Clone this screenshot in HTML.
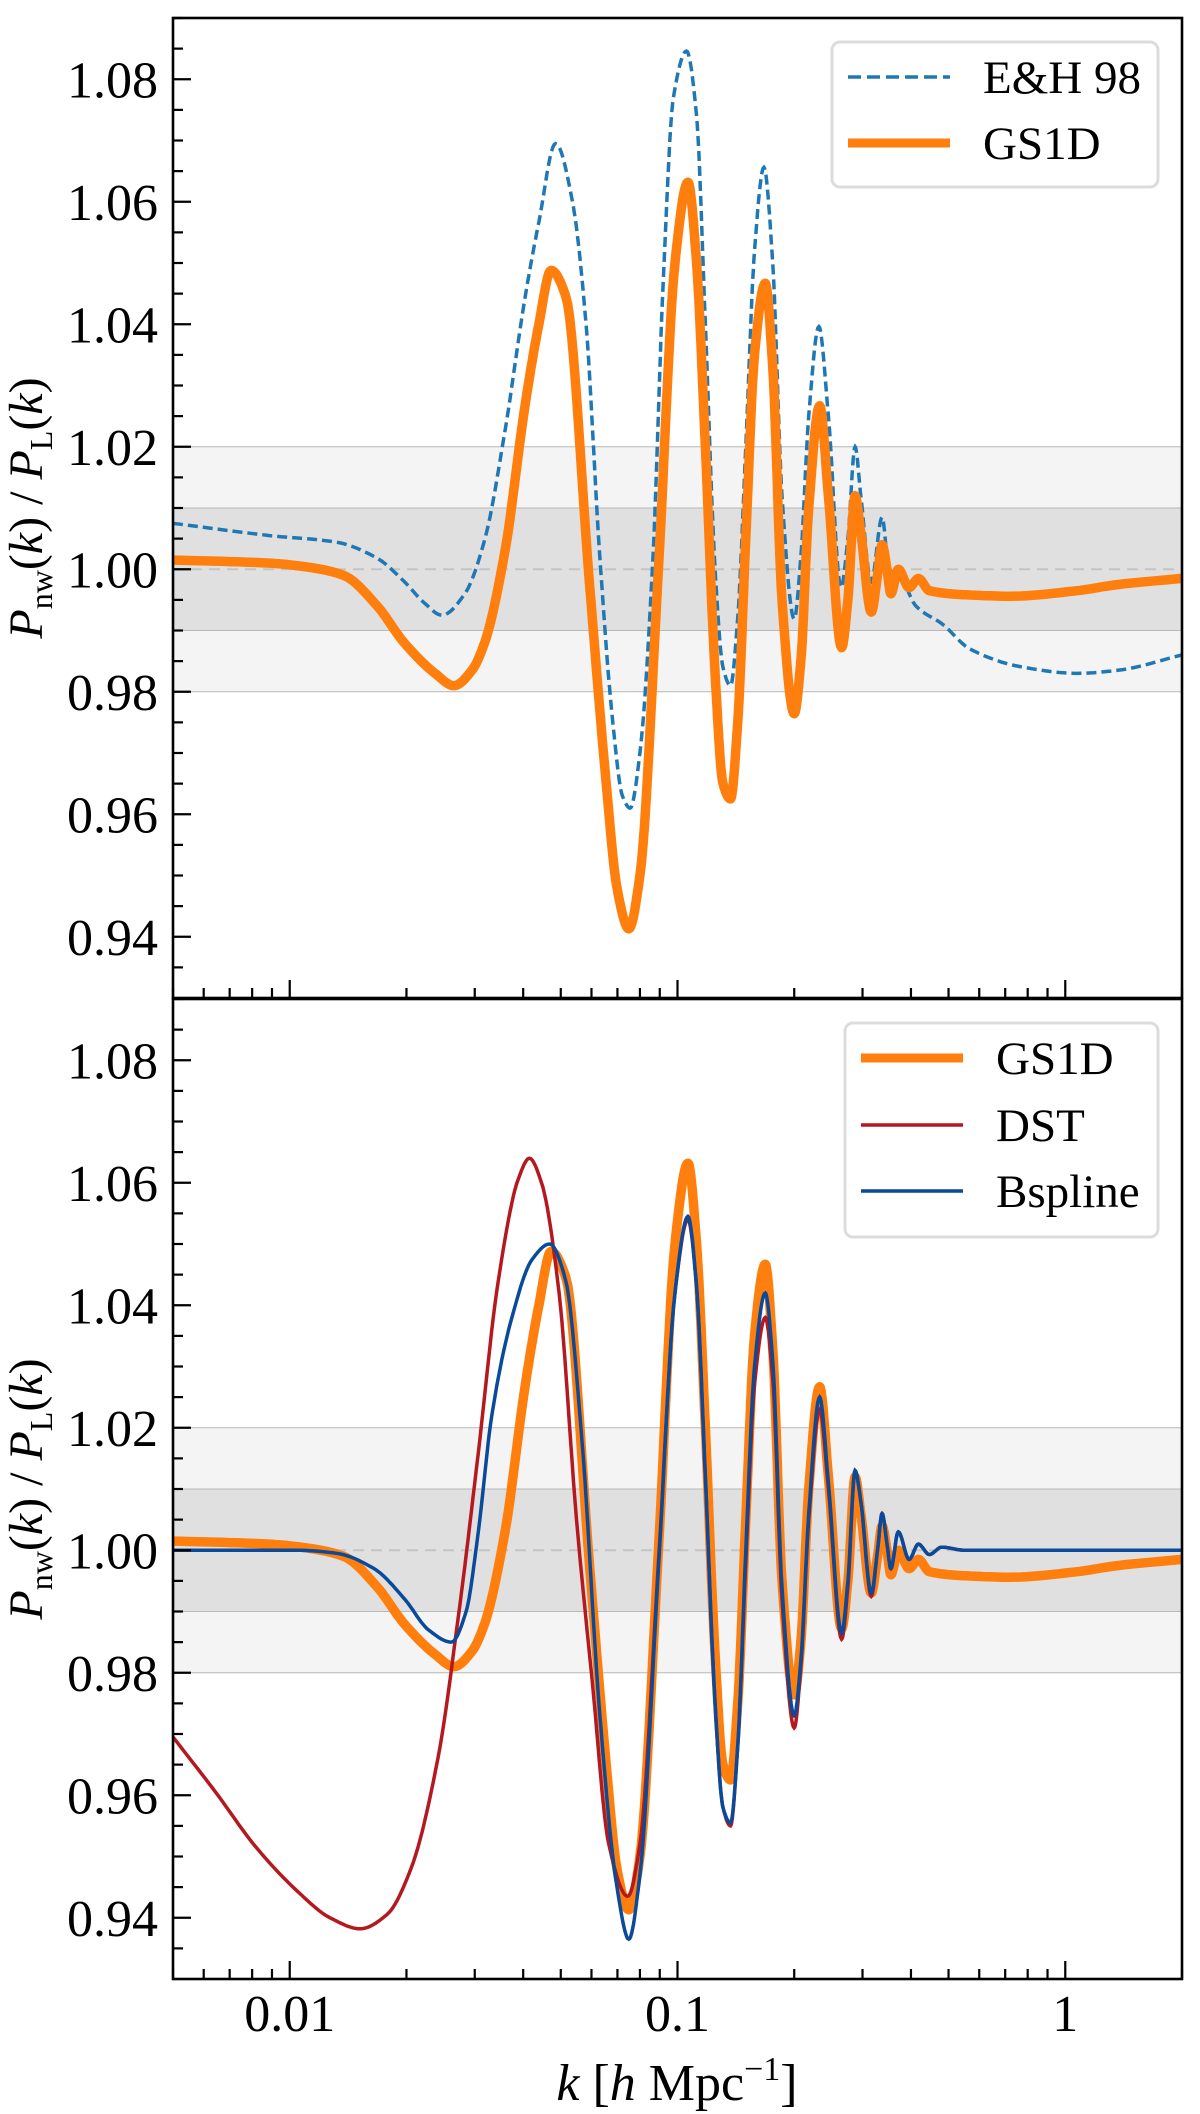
<!DOCTYPE html>
<html><head><meta charset="utf-8"><style>
html,body{margin:0;padding:0;background:#fff;}
svg{display:block;}
text{font-family:"Liberation Serif","DejaVu Serif",serif;fill:#000;}
</style></head><body>
<svg id="chart" width="1200" height="2114" viewBox="0 0 1200 2114" xmlns="http://www.w3.org/2000/svg"></svg>
<script>
// ---- data ----
const kGS1D = [0.005,0.00887,0.01127,0.01377,0.01681,0.01973,0.0237,0.0265,0.0295,0.0318,0.0359,0.0405,0.0439,0.0472,0.0515,0.0594,0.0655,0.0698,0.0749,0.080,0.0893,0.0985,0.1064,0.112,0.118,0.125,0.131,0.137,0.143,0.150,0.158,0.1684,0.176,0.186,0.200,0.208,0.218,0.2326,0.245,0.265,0.275,0.287,0.297,0.316,0.328,0.337,0.347,0.355,0.371,0.3956,0.418,0.446,0.567,0.72,1.074,1.365,2.0];
const vGS1D = [1.0015,1.001,1.0003,0.999,0.994,0.988,0.983,0.981,0.9835,0.988,1.003,1.027,1.040,1.0488,1.0446,0.997,0.965,0.948,0.9413,0.950,1.000,1.050,1.0632,1.050,1.020,0.983,0.965,0.9625,0.975,1.005,1.035,1.0467,1.033,0.995,0.9764,0.985,1.010,1.0267,1.012,0.9872,0.995,1.012,1.006,0.993,0.999,1.004,1.0,0.996,1.000,0.997,0.9985,0.9965,0.9958,0.9956,0.9965,0.9975,0.9985];
const kEH = [0.005,0.00887,0.01323,0.01681,0.01973,0.02224,0.0247,0.02828,0.03188,0.0359,0.0405,0.0439,0.0485,0.0536,0.0581,0.0629,0.0681,0.0721,0.0755,0.080,0.0866,0.0916,0.0976,0.1055,0.112,0.118,0.125,0.131,0.137,0.143,0.150,0.158,0.167,0.176,0.186,0.200,0.208,0.218,0.2315,0.245,0.264,0.275,0.287,0.297,0.316,0.337,0.351,0.374,0.412,0.483,0.567,0.78,1.074,1.365,2.0];
const vEH = [1.0075,1.0055,1.0044,1.0018,0.998,0.9945,0.9925,0.996,1.005,1.0226,1.0446,1.0567,1.0695,1.060,1.040,1.003,0.975,0.963,0.961,0.970,1.003,1.045,1.077,1.0846,1.074,1.040,1.000,0.984,0.981,0.992,1.020,1.052,1.0656,1.050,1.012,0.9919,1.002,1.025,1.0396,1.025,0.997,1.005,1.020,1.012,0.998,1.0085,1.0,0.999,0.994,0.991,0.987,0.984,0.983,0.9835,0.986];
const kDST = [0.005,0.00644,0.00819,0.0104,0.0127,0.0152,0.0178,0.02054,0.0241,0.0272,0.0306,0.0345,0.0389,0.0415,0.0446,0.0495,0.0549,0.0604,0.0665,0.0744,0.080,0.0893,0.0985,0.1064,0.112,0.118,0.125,0.131,0.137,0.143,0.150,0.158,0.1684,0.176,0.186,0.200,0.208,0.218,0.2326,0.245,0.265,0.275,0.287,0.297,0.316,0.328,0.337,0.347,0.355,0.371,0.3956,0.418,0.446,0.48,0.55,2.0];
const vDST = [0.9695,0.9605,0.9515,0.9445,0.9400,0.9382,0.9405,0.948,0.966,0.989,1.0156,1.044,1.0607,1.064,1.060,1.042,1.005,0.978,0.952,0.9435,0.952,0.998,1.042,1.054,1.043,1.012,0.975,0.958,0.955,0.968,0.998,1.027,1.038,1.028,0.992,0.971,0.981,1.005,1.023,1.010,0.9855,0.994,1.013,1.008,0.9925,1.0,1.006,1.001,0.997,1.003,0.9985,1.001,0.9993,1.0005,1.0,1.0];
const kBS = [0.005,0.0105,0.0132,0.0165,0.0198,0.0228,0.0261,0.0285,0.0305,0.0332,0.0374,0.0422,0.0468,0.0515,0.0567,0.0629,0.0698,0.0749,0.080,0.0893,0.0985,0.1064,0.112,0.118,0.125,0.131,0.137,0.143,0.150,0.158,0.1684,0.176,0.186,0.200,0.208,0.218,0.2326,0.245,0.265,0.275,0.287,0.297,0.316,0.328,0.337,0.347,0.355,0.371,0.3956,0.418,0.446,0.48,0.55,2.0];
const vBS = [1.0,1.0,0.9995,0.997,0.992,0.987,0.985,0.990,1.002,1.022,1.038,1.0475,1.050,1.044,1.018,0.974,0.945,0.9365,0.947,0.997,1.042,1.0545,1.043,1.012,0.975,0.958,0.9555,0.968,1.0,1.03,1.042,1.031,0.994,0.973,0.982,1.006,1.025,1.011,0.9865,0.995,1.013,1.008,0.993,1.0,1.006,1.001,0.997,1.003,0.9985,1.001,0.9993,1.0005,1.0,1.0];
const yTickLabels = ["1.08","1.06","1.04","1.02","1.00","0.98","0.96","0.94"];
const yTickValues = [1.08,1.06,1.04,1.02,1.00,0.98,0.96,0.94];
const xTickLabels = ["0.01","0.1","1"];
const xTickValues = [0.01,0.1,1];

const NS="http://www.w3.org/2000/svg";
const svg=document.getElementById('chart');
const XL=173, XR=1182, KMIN=0.005, KMAX=2.0, YMIN=0.93, YMAX=1.09;
const panels=[{top:18,bottom:998},{top:999,bottom:1979}];
function xs(k){return XL+(Math.log10(k)-Math.log10(KMIN))/(Math.log10(KMAX)-Math.log10(KMIN))*(XR-XL);}
function ys(p,v){return p.bottom-(v-YMIN)/(YMAX-YMIN)*(p.bottom-p.top);}
function el(tag,attrs,parent){const e=document.createElementNS(NS,tag);for(const a in attrs)e.setAttribute(a,attrs[a]);(parent||svg).appendChild(e);return e;}

function monotone(xsArr,vs){
  const n=xsArr.length,d=[],m=new Array(n);
  for(let i=0;i<n-1;i++)d.push((vs[i+1]-vs[i])/(xsArr[i+1]-xsArr[i]));
  m[0]=d[0];m[n-1]=d[n-2];
  for(let i=1;i<n-1;i++){ if(d[i-1]*d[i]<=0)m[i]=0; else {const w1=2*(xsArr[i+1]-xsArr[i])+(xsArr[i]-xsArr[i-1]),w2=(xsArr[i+1]-xsArr[i])+2*(xsArr[i]-xsArr[i-1]);m[i]=(w1+w2)/(w1/d[i-1]+w2/d[i]);}}
  const pts=[];
  for(let i=0;i<n-1;i++){const h=xsArr[i+1]-xsArr[i];
    for(let s=0;s<12;s++){const t=s/12,t2=t*t,t3=t2*t;
      const v=(2*t3-3*t2+1)*vs[i]+(t3-2*t2+t)*h*m[i]+(-2*t3+3*t2)*vs[i+1]+(t3-t2)*h*m[i+1];
      pts.push([xsArr[i]+t*h,v]);}}
  pts.push([xsArr[n-1],vs[n-1]]);return pts;
}
function seriesPath(p,ks,vs){
  const lx=ks.map(k=>Math.log10(k));
  const pts=monotone(lx,vs);
  return pts.map((q,i)=>(i?'L':'M')+xs(Math.pow(10,q[0])).toFixed(1)+','+ys(p,q[1]).toFixed(1)).join(' ');
}

panels.forEach((p,pi)=>{
  const g=el('g',{});
  
  
  const cid='clip'+pi;
  const cp=el('clipPath',{id:cid},g);el('rect',{x:XL,y:p.top,width:XR-XL,height:p.bottom-p.top},cp);
  const b1=el('rect',{x:XL,y:ys(p,1.02),width:XR-XL,height:ys(p,0.98)-ys(p,1.02),fill:'#f4f4f4',stroke:'#b8b8b8','stroke-width':1},g);
  
  const b2=el('rect',{x:XL,y:ys(p,1.01),width:XR-XL,height:ys(p,0.99)-ys(p,1.01),fill:'#e0e0e0',stroke:'#b8b8b8','stroke-width':1},g);
  
  const ref=el('line',{x1:XL,x2:XR,y1:ys(p,1),y2:ys(p,1),stroke:'#c4c4c4','stroke-width':2,'stroke-dasharray':'11,7'},g);
  
  const cg=el('g',{'clip-path':'url(#'+cid+')'},g);
  if(pi===0){
    const a=el('path',{d:seriesPath(p,kEH,vEH),fill:'none',stroke:'#1f77b4','stroke-width':3.5,'stroke-dasharray':'10,5'},cg);
    
    const b=el('path',{d:seriesPath(p,kGS1D,vGS1D),fill:'none',stroke:'#ff7f0e','stroke-width':9.5,'stroke-linejoin':'round'},cg);
    
  } else {
    const b=el('path',{d:seriesPath(p,kGS1D,vGS1D),fill:'none',stroke:'#ff7f0e','stroke-width':9.5,'stroke-linejoin':'round'},cg);
    
    const c=el('path',{d:seriesPath(p,kDST,vDST),fill:'none',stroke:'#b3191e','stroke-width':3.5},cg);
    
    const d=el('path',{d:seriesPath(p,kBS,vBS),fill:'none',stroke:'#0a4a9a','stroke-width':3.5},cg);
    
  }
  for(let v=0.935;v<1.0901;v+=0.005){
    const major=Math.abs(Math.round(v*100)/100-v)<1e-6 && Math.round(v*100)%2===0;
    const y=ys(p,v);
    const t=el('line',{x1:XL,x2:XL+(major?18:10),y1:y,y2:y,stroke:'#000','stroke-width':2.2},g);
    
  }
  yTickValues.forEach((v,i)=>{
    const t=el('text',{x:158,y:ys(p,v)+18,'text-anchor':'end','font-size':52},g);
    t.textContent=yTickLabels[i];
    
  });
  for(let e=-3;e<=0;e++){for(let m=1;m<=9;m++){const k=m*Math.pow(10,e);if(k<KMIN-1e-9||k>KMAX+1e-9)continue;
    const x=xs(k);const t=el('line',{x1:x,x2:x,y1:p.bottom,y2:p.bottom-(m===1?18:10),stroke:'#000','stroke-width':2.2},g);
    }}
  const fr=el('rect',{x:XL,y:p.top,width:XR-XL,height:p.bottom-p.top,fill:'none',stroke:'#000','stroke-width':2.6},g);
  
  const yl=el('text',{x:0,y:0,'text-anchor':'middle','font-size':48,transform:'translate(42,'+((p.top+p.bottom)/2)+') rotate(-90)'},g);
  
  yl.innerHTML='<tspan font-style="italic">P</tspan><tspan font-size="32" dy="10">nw</tspan><tspan dy="-10">(</tspan><tspan font-style="italic">k</tspan><tspan>) / </tspan><tspan font-style="italic">P</tspan><tspan font-size="32" dy="10">L</tspan><tspan dy="-10">(</tspan><tspan font-style="italic">k</tspan><tspan>)</tspan>';
});
xTickValues.forEach((v,i)=>{
  const t=el('text',{x:xs(v),y:2031,'text-anchor':'middle','font-size':52});
  t.textContent=xTickLabels[i];
  
});
const xl=el('text',{x:677,y:2100,'text-anchor':'middle','font-size':52});

xl.innerHTML='<tspan font-style="italic">k</tspan> [<tspan font-style="italic">h</tspan> Mpc<tspan font-size="34" dy="-20">−1</tspan><tspan dy="20">]</tspan>';

function legend(name,x,y,w,h,entries){
  const g=el('g',{});
  
  el('rect',{x:x,y:y,width:w,height:h,rx:8,fill:'#fff',stroke:'#dcdcdc','stroke-width':3},g);
  entries.forEach(en=>{
    const eg=el('g',{},g);
    
    const a={x1:x+16,x2:x+118,y1:en.y,y2:en.y,stroke:en.c,'stroke-width':en.w};
    if(en.dash)a['stroke-dasharray']=en.dash;
    el('line',a,eg);
    const t=el('text',{x:en.tx,y:en.y+16,'font-size':47},eg);t.textContent=en.label;
  });
}
legend('legend-top',832,42,326,145,[
  {label:'E&H 98',c:'#1f77b4',w:3.5,dash:'13,6',y:77,tx:983},
  {label:'GS1D',c:'#ff7f0e',w:9,y:143,tx:983}]);
legend('legend-bottom',845,1023,313,214,[
  {label:'GS1D',c:'#ff7f0e',w:9,y:1058,tx:996},
  {label:'DST',c:'#b3191e',w:3.5,y:1125,tx:996},
  {label:'Bspline',c:'#0a4a9a',w:3.5,y:1191,tx:996}]);
</script>
</body></html>
